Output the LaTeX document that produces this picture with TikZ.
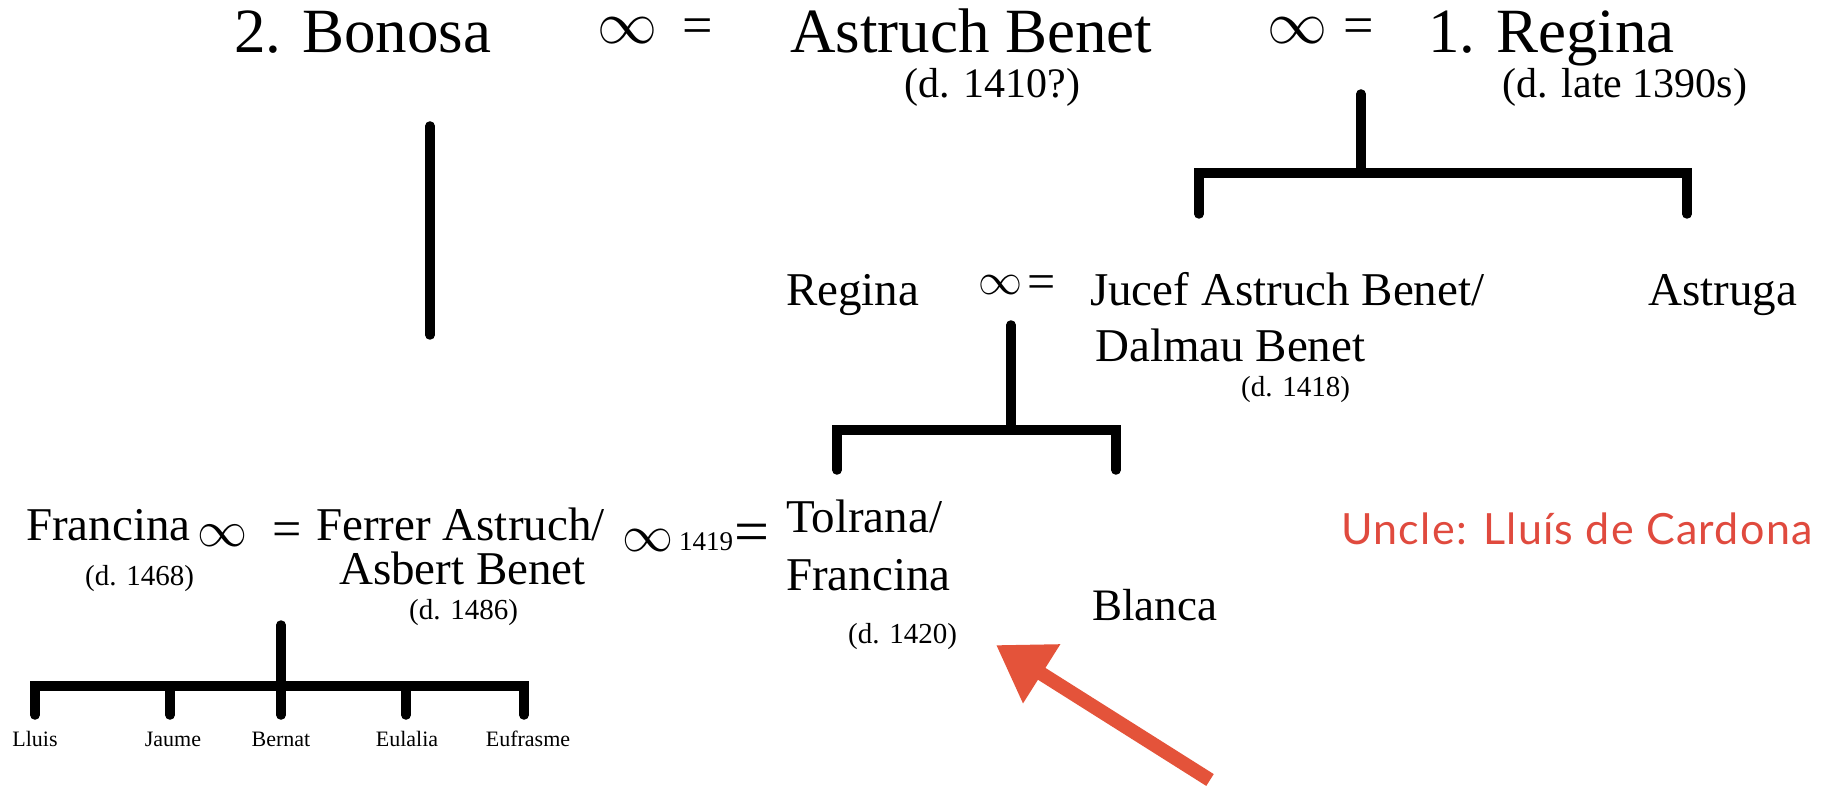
\RequirePackage{fix-cm}
\documentclass[tikz,border=0pt]{standalone}
\usepackage{fontspec}
\setmainfont{Liberation Serif}
\newfontfamily\uncfont{Lato}[LetterSpace=3]
\usetikzlibrary{arrows.meta}
\definecolor{uncred}{HTML}{E04A3E}
\definecolor{arrred}{HTML}{E4533A}
\tikzset{
  txt/.style={inner sep=0pt, anchor=base west},
  bigname/.style={txt, font=\fontsize{63}{68}\selectfont},
  bigdate/.style={txt, font=\fontsize{42}{46}\selectfont},
  midname/.style={txt, font=\fontsize{47}{52}\selectfont},
  middate/.style={txt, font=\fontsize{29}{32}\selectfont},
  kid/.style={inner sep=0pt, anchor=base, font=\fontsize{22}{24}\selectfont},
  inf/.style={inner sep=0pt, anchor=center, font=\fontsize{#1}{#1}\selectfont, execute at begin node=$, execute at end node=$},
  eqs/.style={inner sep=0pt, anchor=center, font=\fontsize{#1}{#1}\selectfont},
  tree/.style={line width=9.5pt, line cap=round, line join=miter},
  redarrow/.style={draw=arrred, line width=14pt, -{Triangle[length=54pt,width=66pt]}},
}
\begin{document}
\begin{tikzpicture}[x=1pt,y=-1pt]
\useasboundingbox[fill=white] (0,0) rectangle (1833,791);
% top row
\node[bigname] (bonosa) at (234,53) {2. Bonosa};
\node[inf=60] (inf1) at (627,31) {\infty};
\node[eqs=54] (eq1) at (698,31) {=};
\node[bigname] (astruch) at (790,53) {Astruch Benet};
\node[bigdate] (astruchd) at (904,98) {(d. 1410?)};
\node[inf=60] (inf2) at (1297,31) {\infty};
\node[eqs=54] (eq2) at (1359,31) {=};
\node[bigname] (regina1) at (1428,53) {1. Regina};
\node[bigdate] (regina1d) at (1502,98) {(d. late 1390s)};
% middle row
\node[midname] (regina2) at (786,306) {Regina};
\node[inf=44] (inf3) at (1000,285) {\infty};
\node[eqs=50] (eq3) at (1042,287) {=};
\node[midname] (jucef) at (1090,306) {Jucef Astruch Benet/};
\node[midname] (dalmau) at (1095,361) {Dalmau Benet};
\node[middate] (jucefd) at (1241,396) {(d. 1418)};
\node[midname] (astruga) at (1648,306) {Astruga};
% lower row
\node[midname] (francina1) at (26,540) {Francina};
\node[middate] (francina1d) at (85,585) {(d. 1468)};
\node[inf=50] (inf4) at (222,536) {\infty};
\node[eqs=52] (eq4) at (287,535) {=};
\node[midname] (ferrer) at (316,540) {Ferrer Astruch/};
\node[midname] (asbert) at (339,584) {Asbert Benet};
\node[middate] (asbertd) at (409,619) {(d. 1486)};
\node[inf=51] (inf5) at (648,541) {\infty};
\node[txt, font=\fontsize{27}{30}\selectfont] (y1419) at (679,550) {1419};
\node[eqs=62] (eq5) at (752,538) {=};
\node[midname] (tolrana) at (786,532) {Tolrana/};
\node[midname] (francina2) at (786,590) {Francina};
\node[middate] (francina2d) at (848,643) {(d. 1420)};
\node[txt, font=\fontsize{45}{50}\selectfont] (blanca) at (1092,620) {Blanca};
\node[txt, text=uncred, font=\uncfont\fontsize{43}{48}\selectfont] (uncle) at (1341,544) {Uncle: Lluís de Cardona};
% children
\node[kid] (lluis) at (35,746) {Lluis};
\node[kid] (jaume) at (173,746) {Jaume};
\node[kid] (bernat) at (281,746) {Bernat};
\node[kid] (eulalia) at (407,746) {Eulalia};
\node[kid] (eufrasme) at (528,746) {Eufrasme};
% tree coordinates
\coordinate (bA) at (430,126);
\coordinate (bB) at (430,335);
\coordinate (rTop) at (1361,94);
\coordinate (rMid) at (1361,173);
\coordinate (rL) at (1199,173);
\coordinate (rR) at (1687,173);
\coordinate (rLd) at (1199,214);
\coordinate (rRd) at (1687,214);
\coordinate (mTop) at (1011,325);
\coordinate (mMid) at (1011,430);
\coordinate (mL) at (837,430);
\coordinate (mR) at (1116,430);
\coordinate (mLd) at (837,470);
\coordinate (mRd) at (1116,470);
\coordinate (lTop) at (281,625);
\coordinate (lMid) at (281,686);
\coordinate (lA) at (35,686);
\coordinate (lE) at (524,686);
\coordinate (lAd) at (35,715);
\coordinate (lBd) at (170,715);
\coordinate (lB) at (170,686);
\coordinate (lCd) at (281,715);
\coordinate (lDd) at (406,715);
\coordinate (lD) at (406,686);
\coordinate (lEd) at (524,715);
\draw[tree] (bA) -- (bB);
\draw[tree] (rTop) -- (rMid);
\draw[tree] (rLd) -- (rL) -- (rR) -- (rRd);
\draw[tree] (mTop) -- (mMid);
\draw[tree] (mLd) -- (mL) -- (mR) -- (mRd);
\draw[tree] (lTop) -- (lCd);
\draw[tree] (lAd) -- (lA) -- (lE) -- (lEd);
\draw[tree] (lB) -- (lBd);
\draw[tree] (lD) -- (lDd);
% arrow
\coordinate (arrTail) at (1210,780);
\coordinate (arrTip) at (996,645);
\draw[redarrow] (arrTail) -- (arrTip);
\end{tikzpicture}
\end{document}
